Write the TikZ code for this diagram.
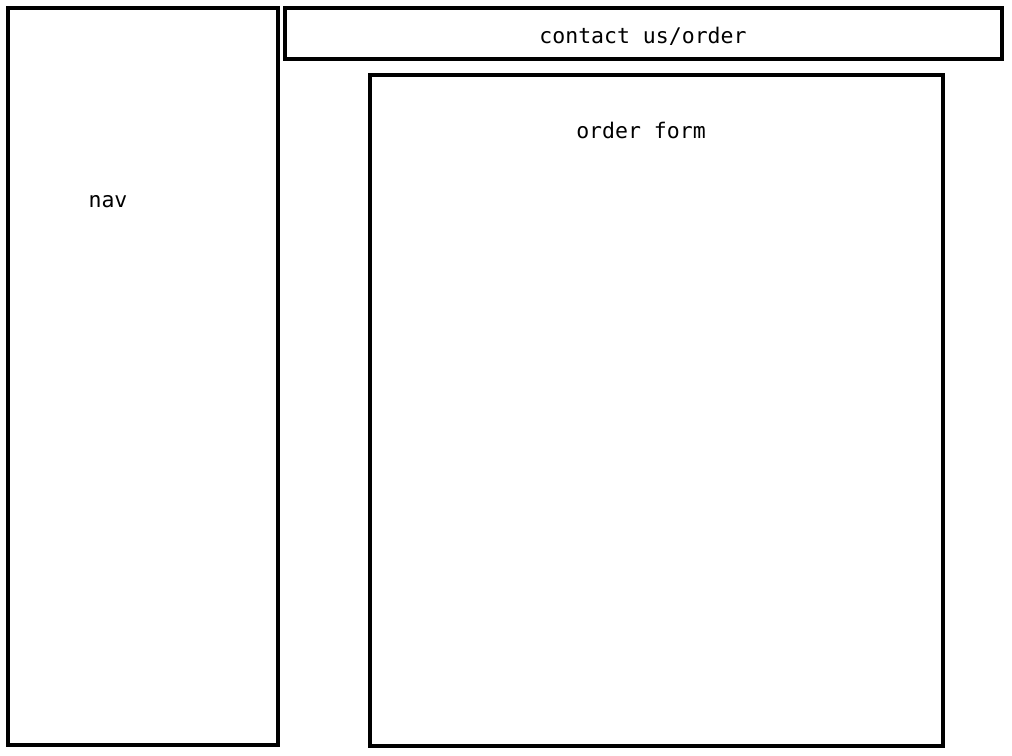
\documentclass[tikz,border=0pt]{standalone}
\usepackage{fontspec}
\setmonofont{DejaVu Sans Mono}
\begin{document}
\begin{tikzpicture}[
  x=1pt, y=-1pt,
  font=\ttfamily\fontsize{21.5}{25}\selectfont,
  box/.style={draw, line width=4.2pt, inner sep=0pt},
  txt/.style={inner sep=0pt}
]
\useasboundingbox (0,0) rectangle (1012,755);
\node[box, minimum width=270pt, minimum height=737pt] (nav) at (143,376.5) {};
\node[box, minimum width=717pt, minimum height=51pt] (head) at (643.5,33.5) {};
\node[box, minimum width=573pt, minimum height=671pt] (form) at (656.5,410.5) {};

\node[txt] (navtxt) at (108,202) {nav};
\node[txt] (headtxt) at (643,36) {contact us/order};
\node[txt] (formtxt) at (641,130) {order form};
\end{tikzpicture}
\end{document}
